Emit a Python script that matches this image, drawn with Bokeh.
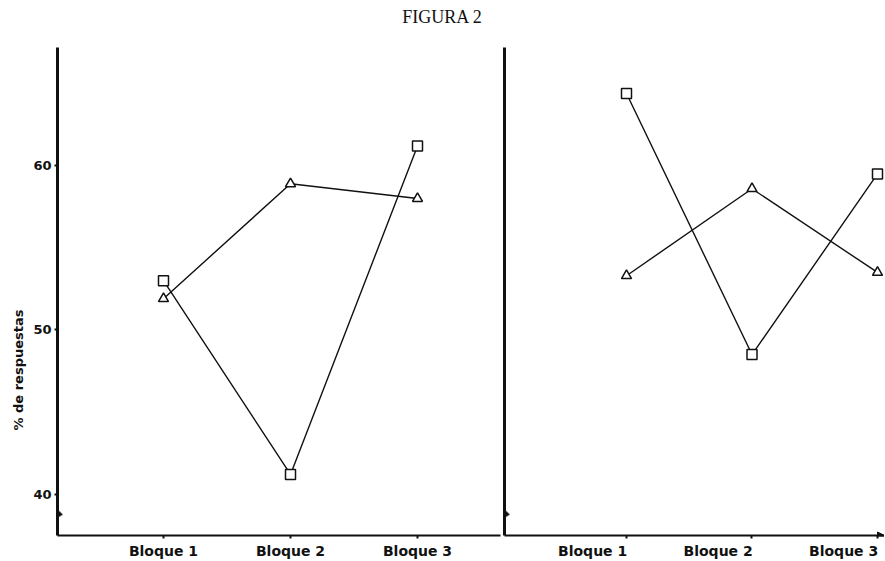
from bokeh.plotting import figure
from bokeh.layouts import row, column
from bokeh.models import FixedTicker, Title, Arrow, NormalHead, PolyAnnotation
from bokeh.core.properties import value
from bokeh.embed import file_html
from bokeh.resources import INLINE

# ---- data ----
blocks = ["Bloque 1", "Bloque 2", "Bloque 3"]
block_x = [1, 2, 3]
y_ticks = [40, 50, 60]
left_squares = [53.0, 41.2, 61.2]
left_triangles = [51.9, 58.9, 58.0]
right_squares = [64.4, 48.5, 59.5]
right_triangles = [53.3, 58.6, 53.5]
title_text = ["FIGURA 2"]
y_label_text = "% de respuestas"

# ---- layout constants ----
TITLE_H = 30
Y_START, Y_END = 37.48, 67.20
X1_START, X1_END = 0.1654, 3.6535
X2_START, X2_END = 0.0279, 3.0558
PX1 = 127.0   # px per x unit, left panel
PX2 = 125.5   # px per x unit, right panel
PY = 16.45    # px per y unit
LABEL_SHIFT = 0.27
FONT = "DejaVu Sans"
INK = "#111111"


def base(width, xr, border_left, border_right):
    p = figure(width=width, height=561 - TITLE_H, x_range=xr, y_range=(Y_START, Y_END),
               output_backend="svg", toolbar_location=None,
               min_border_left=border_left, min_border_right=border_right,
               min_border_top=47 - TITLE_H, min_border_bottom=25)
    p.grid.visible = False
    p.outline_line_color = None
    p.background_fill_color = "white"
    p.border_fill_color = "white"
    for ax in (p.xaxis, p.yaxis):
        ax.axis_line_color = INK
        ax.major_tick_line_color = INK
        ax.major_label_text_color = INK
        ax.major_label_text_font = FONT
        ax.major_label_text_font_style = "bold"
        ax.minor_tick_line_color = None
    p.xaxis.axis_line_width = 2
    p.yaxis.axis_line_width = 3
    return p


def draw_series(p, squares, triangles):
    p.line(block_x, squares, line_color=INK, line_width=1.4)
    p.line(block_x, triangles, line_color=INK, line_width=1.4)
    p.scatter(block_x, squares, marker="square", size=10, fill_color="white",
              line_color=INK, line_width=1.5)
    p.scatter(block_x, triangles, marker="triangle", size=10, fill_color="white",
              line_color=INK, line_width=1.5)


def add_break(p, x0, px):
    offs = [(0, 7), (-4, 2), (2, -1), (5, -4), (0, -7), (0, 7)]
    yb = 39.0
    p.add_layout(PolyAnnotation(xs=[x0 + dx / px for dx, dy in offs],
                                ys=[yb + dy / PY for dx, dy in offs],
                                fill_color=INK, fill_alpha=1.0,
                                line_color=INK, line_width=1.5))


# ---- title strip ----
pt = figure(width=884, height=TITLE_H, x_range=(0, 884), y_range=(TITLE_H, 0),
            output_backend="svg", toolbar_location=None,
            min_border=0, min_border_left=0, min_border_right=0,
            min_border_top=0, min_border_bottom=0)
pt.axis.visible = False
pt.grid.visible = False
pt.outline_line_color = None
pt.text(x=[442], y=[16], text=title_text, text_align="center", text_baseline="middle",
        text_font=value("Liberation Serif"), text_font_size="18px", text_color=INK)

# ---- left panel ----
p1 = base(502, (X1_START, X1_END), 57, 2)
draw_series(p1, left_squares, left_triangles)
p1.xaxis.ticker = FixedTicker(ticks=block_x)
p1.xaxis.major_label_overrides = dict(zip(block_x, blocks))
p1.xaxis.major_tick_out = 3
p1.xaxis.major_tick_in = 0
p1.xaxis.major_tick_line_width = 2
p1.xaxis.major_label_standoff = 4
p1.xaxis.major_label_text_font_size = "14px"
p1.yaxis.ticker = FixedTicker(ticks=y_ticks)
p1.yaxis.major_tick_out = 3
p1.yaxis.major_tick_in = 0
p1.yaxis.major_tick_line_width = 2
p1.yaxis.major_label_standoff = 3
p1.yaxis.major_label_text_font_size = "13px"
add_break(p1, X1_START, PX1)
p1.add_layout(Title(text=y_label_text, align="left", offset=105,
                    text_font=FONT, text_font_size="13px", text_font_style="bold",
                    text_color=INK, standoff=9), "left")

# ---- right panel ----
p2 = base(382, (X2_START, X2_END), 2, 0)
draw_series(p2, right_squares, right_triangles)
label_pos = [x - LABEL_SHIFT for x in block_x]
p2.xaxis.ticker = FixedTicker(ticks=label_pos, minor_ticks=block_x)
p2.xaxis.major_label_overrides = dict(zip(label_pos, blocks))
p2.xaxis.major_tick_out = 0
p2.xaxis.major_tick_in = 0
p2.xaxis.major_tick_line_color = None
p2.xaxis.minor_tick_line_color = INK
p2.xaxis.minor_tick_out = 3
p2.xaxis.minor_tick_in = 0
p2.xaxis.minor_tick_line_width = 2
p2.xaxis.major_label_standoff = 4
p2.xaxis.major_label_text_font_size = "14px"
p2.yaxis.ticker = FixedTicker(ticks=[])
p2.yaxis.major_tick_out = 0
p2.yaxis.major_tick_in = 0
p2.yaxis.major_label_standoff = 0
add_break(p2, X2_START, PX2)
p2.add_layout(Arrow(end=NormalHead(size=7, fill_color=INK, line_color=INK),
                    x_start=X2_END - 0.06, y_start=Y_START,
                    x_end=X2_END, y_end=Y_START, line_color=INK, line_width=2))

layout = column(pt, row(p1, p2))
open("out.html", "w").write(file_html(layout, INLINE))
